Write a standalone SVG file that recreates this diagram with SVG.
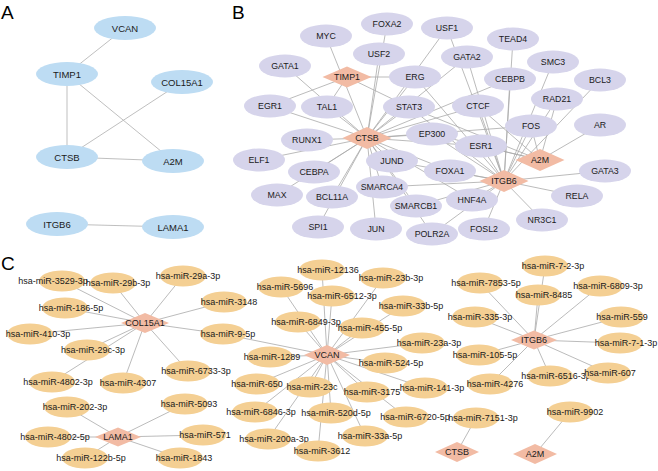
<svg xmlns="http://www.w3.org/2000/svg" width="658" height="471" viewBox="0 0 658 471">
<style>
text{font-family:"Liberation Sans",Arial,sans-serif;fill:#1a1a1a;text-anchor:middle}
.lab{font-size:19px;text-anchor:start;fill:#000}
.ea{fill:#bddcf3}
.eb{fill:#d6d4eb}
.ec{fill:#f4cf93}
.dm{fill:#f2bba4}
.ta{font-size:9.5px}
.tb{font-size:8.8px}
.tc{font-size:9px}
.edges line{stroke:#aaaaaa;stroke-width:0.8}
.edgesA line{stroke:#b8b8b8;stroke-width:0.9}
</style>
<rect width="658" height="471" fill="#fff"/>
<text class="lab" x="1" y="19">A</text>
<text class="lab" x="232" y="19">B</text>
<text class="lab" x="1" y="270">C</text>

<g id="edges-A" class="edgesA">
<line x1="125" y1="28" x2="67" y2="74"/>
<line x1="67" y1="74" x2="67" y2="157"/>
<line x1="67" y1="74" x2="173" y2="161"/>
<line x1="182" y1="82" x2="67" y2="157"/>
<line x1="67" y1="157" x2="173" y2="161"/>
<line x1="57" y1="224" x2="173" y2="227"/>
</g>

<g id="edges-B" class="edges">
<!-- CTSB -->
<line x1="367" y1="138" x2="326" y2="36"/>
<line x1="367" y1="138" x2="285" y2="66"/>
<line x1="367" y1="138" x2="379" y2="54"/>
<line x1="367" y1="138" x2="387" y2="24"/>
<line x1="367" y1="138" x2="270" y2="106"/>
<line x1="367" y1="138" x2="327" y2="107"/>
<line x1="367" y1="138" x2="307" y2="140"/>
<line x1="367" y1="138" x2="259" y2="160"/>
<line x1="367" y1="138" x2="314" y2="172"/>
<line x1="367" y1="138" x2="277" y2="195"/>
<line x1="367" y1="138" x2="332" y2="197"/>
<line x1="367" y1="138" x2="318" y2="227"/>
<line x1="367" y1="138" x2="376" y2="229"/>
<line x1="367" y1="138" x2="382" y2="187"/>
<line x1="367" y1="138" x2="416" y2="206"/>
<line x1="367" y1="138" x2="392" y2="161"/>
<line x1="367" y1="138" x2="432" y2="234"/>
<line x1="367" y1="138" x2="472" y2="200"/>
<line x1="367" y1="138" x2="450" y2="171"/>
<line x1="367" y1="138" x2="481" y2="146"/>
<line x1="367" y1="138" x2="432" y2="134"/>
<line x1="367" y1="138" x2="478" y2="106"/>
<line x1="367" y1="138" x2="409" y2="107"/>
<line x1="367" y1="138" x2="415" y2="77"/>
<line x1="367" y1="138" x2="510" y2="79"/>
<line x1="367" y1="138" x2="467" y2="57"/>
<line x1="367" y1="138" x2="447" y2="28"/>
<line x1="367" y1="138" x2="531" y2="126"/>
<!-- ITGB6 -->
<line x1="504" y1="181" x2="415" y2="77"/>
<line x1="504" y1="181" x2="467" y2="57"/>
<line x1="504" y1="181" x2="513" y2="39"/>
<line x1="504" y1="181" x2="553" y2="62"/>
<line x1="504" y1="181" x2="557" y2="99"/>
<line x1="504" y1="181" x2="600" y2="80"/>
<line x1="504" y1="181" x2="510" y2="79"/>
<line x1="504" y1="181" x2="478" y2="106"/>
<line x1="504" y1="181" x2="409" y2="107"/>
<line x1="504" y1="181" x2="432" y2="134"/>
<line x1="504" y1="181" x2="481" y2="146"/>
<line x1="504" y1="181" x2="531" y2="126"/>
<line x1="504" y1="181" x2="605" y2="171"/>
<line x1="504" y1="181" x2="577" y2="196"/>
<line x1="504" y1="181" x2="542" y2="220"/>
<line x1="504" y1="181" x2="484" y2="229"/>
<line x1="504" y1="181" x2="432" y2="234"/>
<line x1="504" y1="181" x2="472" y2="200"/>
<line x1="504" y1="181" x2="416" y2="206"/>
<line x1="504" y1="181" x2="382" y2="187"/>
<line x1="504" y1="181" x2="450" y2="171"/>
<line x1="504" y1="181" x2="392" y2="161"/>
<line x1="504" y1="181" x2="447" y2="28"/>
<!-- A2M -->
<line x1="540" y1="160" x2="600" y2="125"/>
<line x1="540" y1="160" x2="531" y2="126"/>
<line x1="540" y1="160" x2="557" y2="99"/>
<line x1="540" y1="160" x2="432" y2="134"/>
<line x1="540" y1="160" x2="481" y2="146"/>
<line x1="540" y1="160" x2="409" y2="107"/>
<line x1="540" y1="160" x2="478" y2="106"/>
<!-- TIMP1 -->
<line x1="347" y1="77" x2="270" y2="106"/>
<line x1="347" y1="77" x2="327" y2="107"/>
<line x1="347" y1="77" x2="415" y2="77"/>
<line x1="347" y1="77" x2="409" y2="107"/>
</g>

<g id="edges-C" class="edges">
<!-- COL15A1 -->
<line x1="145" y1="323" x2="62" y2="281"/>
<line x1="145" y1="323" x2="113" y2="283"/>
<line x1="145" y1="323" x2="183" y2="276"/>
<line x1="145" y1="323" x2="65" y2="308"/>
<line x1="145" y1="323" x2="224" y2="302"/>
<line x1="145" y1="323" x2="30" y2="334"/>
<line x1="145" y1="323" x2="223" y2="334"/>
<line x1="145" y1="323" x2="87" y2="350"/>
<line x1="145" y1="323" x2="52" y2="382"/>
<line x1="145" y1="323" x2="123" y2="383"/>
<line x1="145" y1="323" x2="188" y2="371"/>
<!-- LAMA1 -->
<line x1="118" y1="437" x2="67" y2="407"/>
<line x1="118" y1="437" x2="185" y2="404"/>
<line x1="118" y1="437" x2="48" y2="437"/>
<line x1="118" y1="437" x2="203" y2="435"/>
<line x1="118" y1="437" x2="85" y2="458"/>
<line x1="118" y1="437" x2="180" y2="458"/>
<!-- VCAN -->
<line x1="327" y1="355" x2="322" y2="270"/>
<line x1="327" y1="355" x2="383" y2="278"/>
<line x1="327" y1="355" x2="281" y2="287"/>
<line x1="327" y1="355" x2="332" y2="296"/>
<line x1="327" y1="355" x2="403" y2="306"/>
<line x1="327" y1="355" x2="298" y2="322"/>
<line x1="327" y1="355" x2="362" y2="328"/>
<line x1="327" y1="355" x2="422" y2="343"/>
<line x1="327" y1="355" x2="223" y2="334"/>
<line x1="327" y1="355" x2="270" y2="357"/>
<line x1="327" y1="355" x2="385" y2="363"/>
<line x1="327" y1="355" x2="257" y2="384"/>
<line x1="327" y1="355" x2="310" y2="387"/>
<line x1="327" y1="355" x2="367" y2="392"/>
<line x1="327" y1="355" x2="425" y2="388"/>
<line x1="327" y1="355" x2="255" y2="412"/>
<line x1="327" y1="355" x2="331" y2="413"/>
<line x1="327" y1="355" x2="406" y2="417"/>
<line x1="327" y1="355" x2="268" y2="439"/>
<line x1="327" y1="355" x2="365" y2="436"/>
<line x1="327" y1="355" x2="318" y2="451"/>
<!-- ITGB6 -->
<line x1="534" y1="340" x2="545" y2="266"/>
<line x1="534" y1="340" x2="480" y2="283"/>
<line x1="534" y1="340" x2="600" y2="286"/>
<line x1="534" y1="340" x2="538" y2="295"/>
<line x1="534" y1="340" x2="475" y2="317"/>
<line x1="534" y1="340" x2="621" y2="317"/>
<line x1="534" y1="340" x2="620" y2="343"/>
<line x1="534" y1="340" x2="479" y2="355"/>
<line x1="534" y1="340" x2="550" y2="376"/>
<line x1="534" y1="340" x2="608" y2="373"/>
<line x1="534" y1="340" x2="490" y2="384"/>
<!-- CTSB, A2M -->
<line x1="457" y1="452" x2="476" y2="418"/>
<line x1="535" y1="454" x2="570" y2="412"/>
</g>

<g id="nodes-A">
<g id="a-vcan"><ellipse class="ea" cx="125" cy="28" rx="31" ry="12"/><text class="ta" x="125" y="31.5">VCAN</text></g>
<g id="a-timp1"><ellipse class="ea" cx="67" cy="74" rx="31" ry="12"/><text class="ta" x="67" y="77.5">TIMP1</text></g>
<g id="a-col15a1"><ellipse class="ea" cx="182" cy="82" rx="31" ry="12"/><text class="ta" x="182" y="85.5">COL15A1</text></g>
<g id="a-ctsb"><ellipse class="ea" cx="67" cy="157" rx="31" ry="12"/><text class="ta" x="67" y="160.5">CTSB</text></g>
<g id="a-a2m"><ellipse class="ea" cx="173" cy="161" rx="31" ry="12"/><text class="ta" x="173" y="164.5">A2M</text></g>
<g id="a-itgb6"><ellipse class="ea" cx="57" cy="224" rx="31" ry="12"/><text class="ta" x="57" y="227.5">ITGB6</text></g>
<g id="a-lama1"><ellipse class="ea" cx="173" cy="227" rx="31" ry="12"/><text class="ta" x="173" y="230.5">LAMA1</text></g>
</g>

<g id="nodes-B">
<g id="b-myc"><ellipse class="eb" cx="326" cy="36" rx="26" ry="11.5"/><text class="tb" x="326" y="39">MYC</text></g>
<g id="b-foxa2"><ellipse class="eb" cx="387" cy="24" rx="26" ry="11.5"/><text class="tb" x="387" y="27">FOXA2</text></g>
<g id="b-usf1"><ellipse class="eb" cx="447" cy="28" rx="26" ry="11.5"/><text class="tb" x="447" y="31">USF1</text></g>
<g id="b-usf2"><ellipse class="eb" cx="379" cy="54" rx="26" ry="11.5"/><text class="tb" x="379" y="57">USF2</text></g>
<g id="b-tead4"><ellipse class="eb" cx="513" cy="39" rx="26" ry="11.5"/><text class="tb" x="513" y="42">TEAD4</text></g>
<g id="b-gata2"><ellipse class="eb" cx="467" cy="57" rx="26" ry="11.5"/><text class="tb" x="467" y="60">GATA2</text></g>
<g id="b-smc3"><ellipse class="eb" cx="553" cy="62" rx="26" ry="11.5"/><text class="tb" x="553" y="65">SMC3</text></g>
<g id="b-gata1"><ellipse class="eb" cx="285" cy="66" rx="26" ry="11.5"/><text class="tb" x="285" y="69">GATA1</text></g>
<g id="b-erg"><ellipse class="eb" cx="415" cy="77" rx="26" ry="11.5"/><text class="tb" x="415" y="80">ERG</text></g>
<g id="b-cebpb"><ellipse class="eb" cx="510" cy="79" rx="26" ry="11.5"/><text class="tb" x="510" y="82">CEBPB</text></g>
<g id="b-bcl3"><ellipse class="eb" cx="600" cy="80" rx="26" ry="11.5"/><text class="tb" x="600" y="83">BCL3</text></g>
<g id="b-rad21"><ellipse class="eb" cx="557" cy="99" rx="26" ry="11.5"/><text class="tb" x="557" y="102">RAD21</text></g>
<g id="b-egr1"><ellipse class="eb" cx="270" cy="106" rx="26" ry="11.5"/><text class="tb" x="270" y="109">EGR1</text></g>
<g id="b-tal1"><ellipse class="eb" cx="327" cy="107" rx="26" ry="11.5"/><text class="tb" x="327" y="110">TAL1</text></g>
<g id="b-stat3"><ellipse class="eb" cx="409" cy="107" rx="26" ry="11.5"/><text class="tb" x="409" y="110">STAT3</text></g>
<g id="b-ctcf"><ellipse class="eb" cx="478" cy="106" rx="26" ry="11.5"/><text class="tb" x="478" y="109">CTCF</text></g>
<g id="b-fos"><ellipse class="eb" cx="531" cy="126" rx="26" ry="11.5"/><text class="tb" x="531" y="129">FOS</text></g>
<g id="b-ar"><ellipse class="eb" cx="600" cy="125" rx="26" ry="11.5"/><text class="tb" x="600" y="128">AR</text></g>
<g id="b-runx1"><ellipse class="eb" cx="307" cy="140" rx="26" ry="11.5"/><text class="tb" x="307" y="143">RUNX1</text></g>
<g id="b-ep300"><ellipse class="eb" cx="432" cy="134" rx="26" ry="11.5"/><text class="tb" x="432" y="137">EP300</text></g>
<g id="b-esr1"><ellipse class="eb" cx="481" cy="146" rx="26" ry="11.5"/><text class="tb" x="481" y="149">ESR1</text></g>
<g id="b-elf1"><ellipse class="eb" cx="259" cy="160" rx="26" ry="11.5"/><text class="tb" x="259" y="163">ELF1</text></g>
<g id="b-jund"><ellipse class="eb" cx="392" cy="161" rx="26" ry="11.5"/><text class="tb" x="392" y="164">JUND</text></g>
<g id="b-cebpa"><ellipse class="eb" cx="314" cy="172" rx="26" ry="11.5"/><text class="tb" x="314" y="175">CEBPA</text></g>
<g id="b-foxa1"><ellipse class="eb" cx="450" cy="171" rx="26" ry="11.5"/><text class="tb" x="450" y="174">FOXA1</text></g>
<g id="b-gata3"><ellipse class="eb" cx="605" cy="171" rx="26" ry="11.5"/><text class="tb" x="605" y="174">GATA3</text></g>
<g id="b-smarca4"><ellipse class="eb" cx="382" cy="187" rx="26" ry="11.5"/><text class="tb" x="382" y="190">SMARCA4</text></g>
<g id="b-max"><ellipse class="eb" cx="277" cy="195" rx="26" ry="11.5"/><text class="tb" x="277" y="198">MAX</text></g>
<g id="b-bcl11a"><ellipse class="eb" cx="332" cy="197" rx="26" ry="11.5"/><text class="tb" x="332" y="200">BCL11A</text></g>
<g id="b-hnf4a"><ellipse class="eb" cx="472" cy="200" rx="26" ry="11.5"/><text class="tb" x="472" y="203">HNF4A</text></g>
<g id="b-rela"><ellipse class="eb" cx="577" cy="196" rx="26" ry="11.5"/><text class="tb" x="577" y="199">RELA</text></g>
<g id="b-smarcb1"><ellipse class="eb" cx="416" cy="206" rx="26" ry="11.5"/><text class="tb" x="416" y="209">SMARCB1</text></g>
<g id="b-nr3c1"><ellipse class="eb" cx="542" cy="220" rx="26" ry="11.5"/><text class="tb" x="542" y="223">NR3C1</text></g>
<g id="b-spi1"><ellipse class="eb" cx="318" cy="227" rx="26" ry="11.5"/><text class="tb" x="318" y="230">SPI1</text></g>
<g id="b-jun"><ellipse class="eb" cx="376" cy="229" rx="26" ry="11.5"/><text class="tb" x="376" y="232">JUN</text></g>
<g id="b-fosl2"><ellipse class="eb" cx="484" cy="229" rx="26" ry="11.5"/><text class="tb" x="484" y="232">FOSL2</text></g>
<g id="b-polr2a"><ellipse class="eb" cx="432" cy="234" rx="26" ry="11.5"/><text class="tb" x="432" y="237">POLR2A</text></g>
<g id="b-timp1"><polygon class="dm" points="322.5,77 347,66.5 371.5,77 347,87.5"/><text class="tb" x="347" y="80">TIMP1</text></g>
<g id="b-ctsb"><polygon class="dm" points="342.5,138 367,127 391.5,138 367,149"/><text class="tb" x="367" y="141">CTSB</text></g>
<g id="b-a2m"><polygon class="dm" points="515.5,160 540,149 564.5,160 540,171"/><text class="tb" x="540" y="163">A2M</text></g>
<g id="b-itgb6"><polygon class="dm" points="479.5,181 504,170 528.5,181 504,192"/><text class="tb" x="504" y="184">ITGB6</text></g>
</g>

<g id="nodes-C">
<g id="c-3529"><ellipse class="ec" cx="62" cy="281" rx="23" ry="10.5"/><text class="tc" x="53" y="284">hsa-miR-3529-3p</text></g>
<g id="c-29b"><ellipse class="ec" cx="113" cy="283" rx="23" ry="10.5"/><text class="tc" x="118" y="286">hsa-miR-29b-3p</text></g>
<g id="c-29a"><ellipse class="ec" cx="183" cy="276" rx="23" ry="10.5"/><text class="tc" x="188" y="279">hsa-miR-29a-3p</text></g>
<g id="c-186"><ellipse class="ec" cx="65" cy="308" rx="23" ry="10.5"/><text class="tc" x="71" y="311">hsa-miR-186-5p</text></g>
<g id="c-3148"><ellipse class="ec" cx="224" cy="302" rx="23" ry="10.5"/><text class="tc" x="229" y="305">hsa-miR-3148</text></g>
<g id="c-410"><ellipse class="ec" cx="30" cy="334" rx="23" ry="10.5"/><text class="tc" x="38" y="337">hsa-miR-410-3p</text></g>
<g id="c-9"><ellipse class="ec" cx="223" cy="334" rx="23" ry="10.5"/><text class="tc" x="228" y="337">hsa-miR-9-5p</text></g>
<g id="c-29c"><ellipse class="ec" cx="87" cy="350" rx="23" ry="10.5"/><text class="tc" x="93" y="353">hsa-miR-29c-3p</text></g>
<g id="c-4802-3p"><ellipse class="ec" cx="52" cy="382" rx="23" ry="10.5"/><text class="tc" x="58" y="385">hsa-miR-4802-3p</text></g>
<g id="c-4307"><ellipse class="ec" cx="123" cy="383" rx="23" ry="10.5"/><text class="tc" x="128" y="386">hsa-miR-4307</text></g>
<g id="c-6733"><ellipse class="ec" cx="188" cy="371" rx="23" ry="10.5"/><text class="tc" x="196" y="374">hsa-miR-6733-3p</text></g>
<g id="c-202"><ellipse class="ec" cx="67" cy="407" rx="23" ry="10.5"/><text class="tc" x="75" y="410">hsa-miR-202-3p</text></g>
<g id="c-5093"><ellipse class="ec" cx="185" cy="404" rx="23" ry="10.5"/><text class="tc" x="189" y="407">hsa-miR-5093</text></g>
<g id="c-4802-5p"><ellipse class="ec" cx="48" cy="437" rx="23" ry="10.5"/><text class="tc" x="55" y="440">hsa-miR-4802-5p</text></g>
<g id="c-571"><ellipse class="ec" cx="203" cy="435" rx="23" ry="10.5"/><text class="tc" x="205" y="438">hsa-miR-571</text></g>
<g id="c-122b"><ellipse class="ec" cx="85" cy="458" rx="23" ry="10.5"/><text class="tc" x="91" y="461">hsa-miR-122b-5p</text></g>
<g id="c-1843"><ellipse class="ec" cx="180" cy="458" rx="23" ry="10.5"/><text class="tc" x="184" y="461">hsa-miR-1843</text></g>
<g id="c-12136"><ellipse class="ec" cx="322" cy="270" rx="23" ry="10.5"/><text class="tc" x="328" y="273">hsa-miR-12136</text></g>
<g id="c-23b"><ellipse class="ec" cx="383" cy="278" rx="23" ry="10.5"/><text class="tc" x="391" y="281">hsa-miR-23b-3p</text></g>
<g id="c-5696"><ellipse class="ec" cx="281" cy="287" rx="23" ry="10.5"/><text class="tc" x="285" y="290">hsa-miR-5696</text></g>
<g id="c-6512"><ellipse class="ec" cx="332" cy="296" rx="23" ry="10.5"/><text class="tc" x="342" y="299">hsa-miR-6512-3p</text></g>
<g id="c-33b"><ellipse class="ec" cx="403" cy="306" rx="23" ry="10.5"/><text class="tc" x="411" y="309">hsa-miR-33b-5p</text></g>
<g id="c-6849"><ellipse class="ec" cx="298" cy="322" rx="23" ry="10.5"/><text class="tc" x="306" y="325">hsa-miR-6849-3p</text></g>
<g id="c-455"><ellipse class="ec" cx="362" cy="328" rx="23" ry="10.5"/><text class="tc" x="370" y="331">hsa-miR-455-5p</text></g>
<g id="c-23a"><ellipse class="ec" cx="422" cy="343" rx="23" ry="10.5"/><text class="tc" x="429" y="346">hsa-miR-23a-3p</text></g>
<g id="c-1289"><ellipse class="ec" cx="270" cy="357" rx="23" ry="10.5"/><text class="tc" x="272" y="360">hsa-miR-1289</text></g>
<g id="c-524"><ellipse class="ec" cx="385" cy="363" rx="23" ry="10.5"/><text class="tc" x="391" y="366">hsa-miR-524-5p</text></g>
<g id="c-650"><ellipse class="ec" cx="257" cy="384" rx="23" ry="10.5"/><text class="tc" x="257" y="387">hsa-miR-650</text></g>
<g id="c-23c"><ellipse class="ec" cx="310" cy="387" rx="23" ry="10.5"/><text class="tc" x="312" y="390">hsa-miR-23c</text></g>
<g id="c-3175"><ellipse class="ec" cx="367" cy="392" rx="23" ry="10.5"/><text class="tc" x="372" y="395">hsa-miR-3175</text></g>
<g id="c-141"><ellipse class="ec" cx="425" cy="388" rx="23" ry="10.5"/><text class="tc" x="432" y="391">hsa-miR-141-3p</text></g>
<g id="c-6846"><ellipse class="ec" cx="255" cy="412" rx="23" ry="10.5"/><text class="tc" x="261" y="415">hsa-miR-6846-3p</text></g>
<g id="c-520d"><ellipse class="ec" cx="331" cy="413" rx="23" ry="10.5"/><text class="tc" x="336" y="416">hsa-miR-520d-5p</text></g>
<g id="c-6720"><ellipse class="ec" cx="406" cy="417" rx="23" ry="10.5"/><text class="tc" x="415" y="420">hsa-miR-6720-5p</text></g>
<g id="c-200a"><ellipse class="ec" cx="268" cy="439" rx="23" ry="10.5"/><text class="tc" x="274" y="442">hsa-miR-200a-3p</text></g>
<g id="c-33a"><ellipse class="ec" cx="365" cy="436" rx="23" ry="10.5"/><text class="tc" x="370" y="439">hsa-miR-33a-5p</text></g>
<g id="c-3612"><ellipse class="ec" cx="318" cy="451" rx="23" ry="10.5"/><text class="tc" x="322" y="454">hsa-miR-3612</text></g>
<g id="c-7-2"><ellipse class="ec" cx="545" cy="266" rx="23" ry="10.5"/><text class="tc" x="553" y="269">hsa-miR-7-2-3p</text></g>
<g id="c-7853"><ellipse class="ec" cx="480" cy="283" rx="23" ry="10.5"/><text class="tc" x="486" y="286">hsa-miR-7853-5p</text></g>
<g id="c-6809"><ellipse class="ec" cx="600" cy="286" rx="23" ry="10.5"/><text class="tc" x="608" y="289">hsa-miR-6809-3p</text></g>
<g id="c-8485"><ellipse class="ec" cx="538" cy="295" rx="23" ry="10.5"/><text class="tc" x="544" y="298">hsa-miR-8485</text></g>
<g id="c-335"><ellipse class="ec" cx="475" cy="317" rx="23" ry="10.5"/><text class="tc" x="480" y="320">hsa-miR-335-3p</text></g>
<g id="c-559"><ellipse class="ec" cx="621" cy="317" rx="23" ry="10.5"/><text class="tc" x="622" y="320">hsa-miR-559</text></g>
<g id="c-7-1"><ellipse class="ec" cx="620" cy="343" rx="23" ry="10.5"/><text class="tc" x="626" y="346">hsa-miR-7-1-3p</text></g>
<g id="c-105"><ellipse class="ec" cx="479" cy="355" rx="23" ry="10.5"/><text class="tc" x="485" y="358">hsa-miR-105-5p</text></g>
<g id="c-6516"><ellipse class="ec" cx="550" cy="376" rx="23" ry="10.5"/><text class="tc" x="556" y="379">hsa-miR-6516-3p</text></g>
<g id="c-607"><ellipse class="ec" cx="608" cy="373" rx="23" ry="10.5"/><text class="tc" x="610" y="376">hsa-miR-607</text></g>
<g id="c-4276"><ellipse class="ec" cx="490" cy="384" rx="23" ry="10.5"/><text class="tc" x="495" y="387">hsa-miR-4276</text></g>
<g id="c-7151"><ellipse class="ec" cx="476" cy="418" rx="23" ry="10.5"/><text class="tc" x="483" y="421">hsa-miR-7151-3p</text></g>
<g id="c-9902"><ellipse class="ec" cx="570" cy="412" rx="23" ry="10.5"/><text class="tc" x="575" y="415">hsa-miR-9902</text></g>
<g id="c-col15a1"><polygon class="dm" points="121,323 145,313 169,323 145,333"/><text class="tc" x="145" y="326">COL15A1</text></g>
<g id="c-lama1"><polygon class="dm" points="95,437 118,427.5 141,437 118,446.5"/><text class="tc" x="118" y="440">LAMA1</text></g>
<g id="c-vcan"><polygon class="dm" points="304,355 327,345 350,355 327,365"/><text class="tc" x="327" y="358">VCAN</text></g>
<g id="c-itgb6"><polygon class="dm" points="511,340 534,330.5 557,340 534,349.5"/><text class="tc" x="534" y="343">ITGB6</text></g>
<g id="c-ctsb"><polygon class="dm" points="435,452 457,442 479,452 457,462"/><text class="tc" x="457" y="455">CTSB</text></g>
<g id="c-a2m"><polygon class="dm" points="513,454 535,444 557,454 535,464"/><text class="tc" x="535" y="457">A2M</text></g>
</g>
</svg>
